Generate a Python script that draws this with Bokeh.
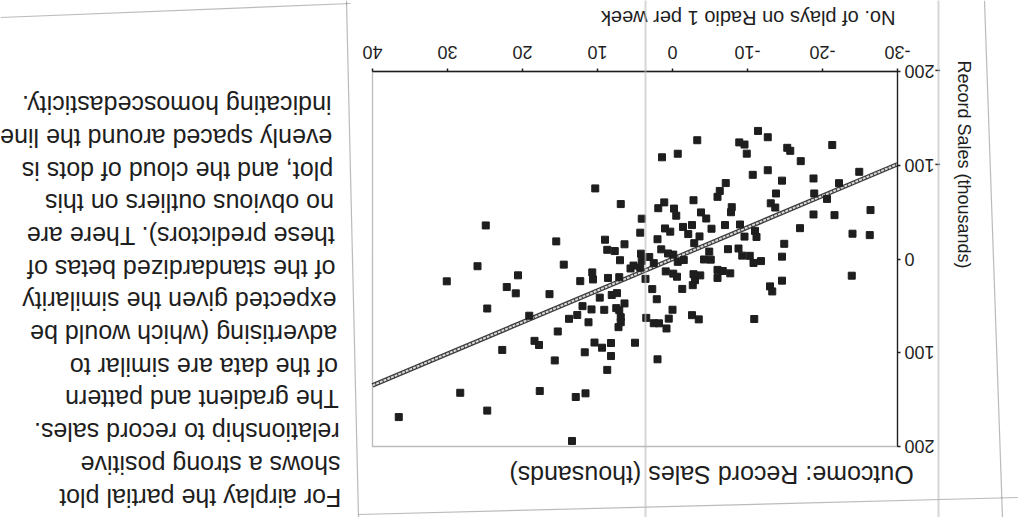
import math
from bokeh.plotting import figure
from bokeh.core.properties import value
from bokeh.models import (Range1d, FixedTicker, Label, LabelSet, BoxAnnotation,
                          PolyAnnotation, ColumnDataSource)
from bokeh.embed import file_html
from bokeh.resources import INLINE

# ---- data ----
radio_plays = [24.9, 15.5, 10.3, 6.9, 9.0, 8.7, 7.7, 6.4, 7.0, -11.4, -12.7, -3.3, -8.9, -9.6, -15.3, -15.7,
               -21.3, -9.9, 1.4, -0.7, -17.1, -12.7, -10.7, -14.6, -18.8, -24.9, -22.2, -7.1, -6.3, -6.0,
               -13.8, -18.9, -20.6, -13.1, -13.7, 1.1, 1.9, -2.8, -0.2, -0.5, -3.8, -4.5, -7.9, -7.8, -18.8,
               -21.6, -26.4, 4.1, -17.0, -24.0, -26.3, -7.0, -9.0, -1.4, -2.6, 1.0, 0.3, -5.2, -11.0, -2.1,
               -3.6, -11.2, -9.6, 4.3, 2.0, -14.9, -2.9, 1.5, 0.6, -0.1, -7.4, -8.8, -9.3, -10.3, -14.6, -4.9,
               4.2, 3.1, -4.2, -5.1, -11.8, -10.8, 14.5, 5.6, 5.2, 8.6, 7.1, 10.7, 10.6, 12.3, 16.4, 9.7, 8.1,
               7.4, 6.4, 12.0, 10.8, 9.1, 7.5, 7.1, 6.9, 6.9, 7.2, 13.8, 12.7, 11.2, 2.7, 2.1, -1.3, 0.9, -0.1,
               -0.6, -2.8, -3.0, -3.7, -1.5, -6.0, -6.7, -7.7, -6.0, -2.6, -3.5, 0.0, 0.5, 3.5, 2.5, 1.8, 0.8,
               -10.9, -0.7, 4.1, 2.5, -23.9, -14.6, -13.0, -13.3, -2.7, 5.0, 2.0, 3.6, 4.3, 26.0, 30.1, 20.6,
               22.1, 20.9, 24.7, 19.1, 15.3, 18.4, 17.8, 22.7, 15.7, 11.7, 10.4, 9.4, 8.2, 8.2, 8.7, 17.7,
               28.3, 24.7, 36.5, 12.9, 11.6, 13.4]
record_sales = [-35.8, -18.8, -75.3, -58.6, -20.6, -9.8, -8.5, -15.7, 1.3, -136.6, -129.9, -126.7, -124.4,
                -122.1, -118.6, -115.4, -121.6, -112.4, -108.5, -112.3, -104.4, -94.7, -89.8, -83.6, -85.9,
                -93.0, -80.9, -81.0, -72.6, -66.3, -69.9, -69.9, -64.1, -59.4, -54.9, -60.4, -54.2, -62.7,
                -53.8, -46.2, -49.7, -43.2, -55.3, -49.9, -47.5, -46.8, -52.2, -43.0, -32.9, -27.0, -25.5,
                -36.2, -36.8, -34.2, -36.2, -32.6, -29.2, -32.3, -30.0, -26.6, -24.1, -23.5, -23.9, -28.1,
                -21.1, -16.2, -16.9, -10.3, -5.9, -4.7, -10.5, -11.2, -3.6, -3.4, -2.5, -7.9, -5.7, -2.1, 0.5,
                0.7, 2.2, 4.2, 6.0, 10.1, 7.0, 20.2, 19.4, 14.3, 21.8, 23.6, 37.5, 41.2, 38.4, 36.4, 47.4,
                50.3, 53.8, 54.2, 52.4, 54.6, 62.1, 67.4, 72.7, 63.8, 59.7, 67.5, 32.1, 42.9, 31.9, 13.2, 15.6,
                18.9, 16.2, 22.6, 17.5, 1.1, 11.6, 12.8, 15.3, 20.2, 59.9, 64.4, 54.1, 63.6, 62.8, 68.5, 68.6,
                74.1, 64.0, 3.0, 1.9, 4.4, 17.8, 23.1, 29.2, 34.6, 27.9, 89.3, 107.0, 21.2, 9.3, 7.7, 23.8,
                17.4, 29.9, 36.6, 52.8, 60.5, 77.3, 87.3, 91.7, 97.0, 108.2, 99.5, 89.1, 94.6, 89.6, 103.5,
                118.3, 140.8, 142.7, 161.7, 168.6, 147.2, 143.3, 194.1]
x_ticks = [-30, -20, -10, 0, 10, 20, 30, 40]
y_ticks = [-200, -100, 0, 100, 200]
fit_slope = 3.37
fit_intercept = 0.0

title_text = "Outcome: Record Sales (thousands)"
x_label = "No. of plays on Radio 1 per week"
y_label = "Record Sales (thousands)"
note_lines = [
    "For airplay the partial plot",
    "shows a strong positive",
    "relationship to record sales.",
    "The gradient and pattern",
    "of the data are similar to",
    "advertising (which would be",
    "expected given the similarity",
    "of the standardized betas of",
    "these predictors). There are",
    "no obvious outliers on this",
    "plot, and the cloud of dots is",
    "evenly spaced around the line",
    "indicating homoscedasticity.",
]

# ---- layout (page pixels of the chart box) ----
W, H = 1018, 517
FL, FR, FT, FB = 372, 897, 71, 446
FONT = "Liberation Sans"
INK = "#1e1e1e"
XMAX, XMIN = max(x_ticks), min(x_ticks)
YMIN, YMAX = min(y_ticks), max(y_ticks)
SX = (FR - FL) / (XMAX - XMIN)      # px per x unit
SY = (FB - FT) / (YMAX - YMIN)      # px per y unit
X_AT_0 = XMAX + FL / SX             # x value at the left page edge (reversed axis)
Y_AT_0 = YMIN - FT / SY             # y value at the top page edge (reversed axis)


def dx(px):
    return X_AT_0 - px / SX


def dy(py):
    return Y_AT_0 + py / SY


p = figure(width=W, height=H, output_backend="svg", toolbar_location=None,
           x_range=Range1d(dx(0), dx(W)), y_range=Range1d(dy(H), dy(0)),
           x_axis_location="above", y_axis_location="right",
           min_border=0)
p.background_fill_color = "white"
p.border_fill_color = "white"
p.outline_line_color = None
p.grid.visible = False

xa, ya = p.xaxis[0], p.yaxis[0]
xa.fixed_location = YMIN
ya.fixed_location = XMIN
xa.bounds = (XMIN, XMAX)
ya.bounds = (YMIN, YMAX)
xa.ticker = FixedTicker(ticks=x_ticks)
ya.ticker = FixedTicker(ticks=y_ticks)
xa.major_label_overrides = {t: "" for t in x_ticks}
ya.major_label_overrides = {t: "" for t in y_ticks}
for ax in (xa, ya):
    ax.axis_line_color = INK
    ax.axis_line_width = 1.3
    ax.major_tick_in = 0
    ax.major_tick_out = 3
    ax.major_tick_line_color = INK
    ax.major_tick_line_width = 1.5
    ax.minor_tick_line_color = None

# chart box
p.add_layout(BoxAnnotation(left=XMAX, right=XMIN, top=YMIN, bottom=YMAX,
                           fill_alpha=0, line_color=INK, line_width=1.3))

# regression line (partial plot fit)
line_x = [XMAX, XMIN]
line_y = [fit_intercept + fit_slope * v for v in line_x]
p.line(line_x, line_y, line_color="#3c3c3c", line_width=4.5)
p.line(line_x, line_y, line_color="#d8d8d8", line_width=2, line_dash="3 1")

p.scatter(radio_plays, record_sales, marker="square", size=7,
          fill_color=INK, line_color=INK)

# tick labels (page is upside down)
xt = ColumnDataSource(dict(x=x_ticks, y=[dy(52)] * len(x_ticks), t=[str(v) for v in x_ticks]))
p.add_layout(LabelSet(x="x", y="y", text="t", source=xt, angle=math.pi,
                      text_align="center", text_baseline="middle",
                      text_font=value(FONT), text_font_size=value("18px"), text_color=INK))
yt = ColumnDataSource(dict(x=[dx(904)] * len(y_ticks), y=y_ticks, t=[str(v) for v in y_ticks]))
p.add_layout(LabelSet(x="x", y="y", text="t", source=yt, angle=math.pi,
                      text_align="right", text_baseline="middle",
                      text_font=value(FONT), text_font_size=value("18px"), text_color=INK))

# titles
p.add_layout(Label(x=dx(711), y=dy(474), text=title_text, angle=math.pi,
                   text_align="center", text_baseline="middle",
                   text_font=FONT, text_font_size="25px", text_color=INK))
p.add_layout(Label(x=dx(895), y=dy(17), text=x_label, angle=math.pi,
                   text_align="left", text_baseline="middle",
                   text_font=FONT, text_font_size="20px", text_color=INK))
p.add_layout(Label(x=dx(963), y=dy(60), text=y_label, angle=-math.pi / 2,
                   text_align="left", text_baseline="middle",
                   text_font=FONT, text_font_size="18px", text_color=INK))
for k, s in enumerate(note_lines):
    py = 497 - 32.7 * k
    p.add_layout(Label(x=dx(331 + 0.025 * (py - 105)), y=dy(py), text=s, angle=math.pi,
                       text_align="left", text_baseline="middle",
                       text_font=FONT, text_font_size="25px", text_color=INK))

# page frame lines and scanner streaks
page_lines = [((0, 350), (17, 3)), ((346, 358), (0, 517)), ((358, 1018), (514, 497)),
              ((984, 1002), (0, 517))]
for xs, ys in page_lines:
    p.add_layout(PolyAnnotation(xs=[dx(v) for v in xs], ys=[dy(v) for v in ys],
                                fill_alpha=0, line_color=INK, line_width=1.2))
for sx in (644, 937):
    p.add_layout(BoxAnnotation(left=dx(sx), right=dx(sx + 2), top=dy(-5), bottom=dy(H + 5),
                               fill_color="#bdbdbd", fill_alpha=0.6, line_alpha=0))

open("out.html", "w").write(file_html(p, INLINE))
